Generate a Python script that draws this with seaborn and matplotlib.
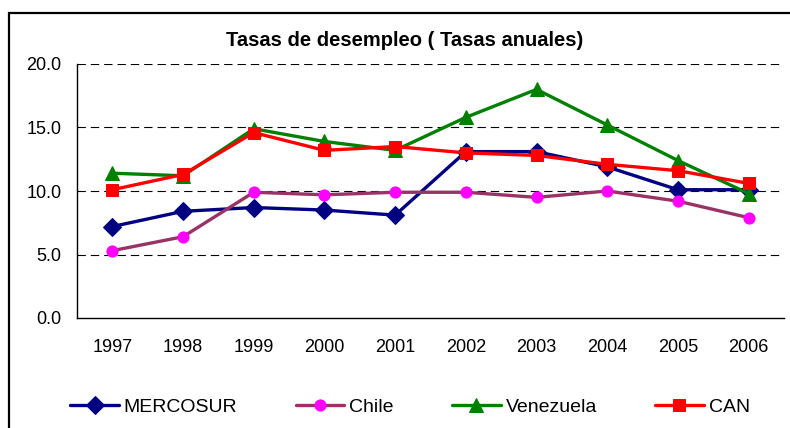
import matplotlib
matplotlib.use("Agg")
import matplotlib.pyplot as plt
import seaborn as sns
import pandas as pd
import numpy as np
from matplotlib.patches import Rectangle

years = [1997, 1998, 1999, 2000, 2001, 2002, 2003, 2004, 2005, 2006]
mercosur = [7.2, 8.4, 8.7, 8.5, 8.1, 13.1, 13.1, 11.9, 10.1, 10.1]
chile = [5.3, 6.4, 9.9, 9.7, 9.9, 9.9, 9.5, 10.0, 9.2, 7.9]
venezuela = [11.4, 11.2, 14.9, 13.9, 13.2, 15.8, 18.0, 15.2, 12.4, 9.8]
can = [10.1, 11.3, 14.6, 13.2, 13.5, 13.0, 12.8, 12.1, 11.6, 10.6]
yticks = [0.0, 5.0, 10.0, 15.0, 20.0]
title = "Tasas de desempleo ( Tasas anuales)"

sns.set_style("white")
plt.rcParams['font.family'] = ['Liberation Sans', 'DejaVu Sans']
plt.rcParams['text.color'] = 'black'
plt.rcParams['xtick.color'] = 'black'
plt.rcParams['ytick.color'] = 'black'
plt.rcParams['xtick.labelcolor'] = 'black'
plt.rcParams['ytick.labelcolor'] = 'black'

fig = plt.figure(figsize=(7.9, 4.28), dpi=100)
ax = fig.add_axes([77/790, 1-318/428, (784-77)/790, (318-64)/428])

series = [
    ("MERCOSUR", mercosur, "#000080", "#000080", "D", 9.5),
    ("Chile", chile, "#993366", "#FF00FF", "o", 8),
    ("Venezuela", venezuela, "#008000", "#008000", "^", 10),
    ("CAN", can, "#FF0000", "#FF0000", "s", 9),
]
for name, vals, lc, mc, mk, ms in series:
    df = pd.DataFrame({"year": years, "value": vals})
    sns.lineplot(data=df, x="year", y="value", ax=ax, color=lc, lw=2.4,
                 marker=mk, markersize=ms, markerfacecolor=mc,
                 markeredgecolor=mc, label=name, sort=False)

ax.set_xlim(years[0]-0.5, years[-1]+0.5)
ax.set_ylim(0, 20)
ax.set_yticks(yticks)
ax.set_yticklabels([f"{v:.1f}" for v in yticks], fontsize=13)
ax.set_xticks(np.arange(years[0]-0.5, years[-1]+1, 1))
ax.set_xticklabels([])
ax.set_xticks(years, minor=True)
ax.set_xticklabels([str(y) for y in years], minor=True, fontsize=13)
ax.tick_params(axis='x', which='major', length=5, width=1, direction='out', color='black')
ax.tick_params(axis='x', which='minor', length=0, pad=15)
ax.tick_params(axis='y', length=5, width=1, direction='out', color='black', pad=6)
ax.set_xlabel("")
ax.set_ylabel("")
for s in ["top", "right"]:
    ax.spines[s].set_visible(False)
for s in ["left", "bottom"]:
    ax.spines[s].set_color("black")
    ax.spines[s].set_linewidth(1)
for v in yticks[1:]:
    ax.axhline(v, color="black", lw=0.8, linestyle=(0, (7.5, 4.5)), zorder=0)

ax.legend_.remove()
handles, labels = ax.get_legend_handles_labels()
fig.legend(handles, labels, loc="center", bbox_to_anchor=(410/790, 1-407/428),
           ncol=4, frameon=False, fontsize=14, handlelength=2.5,
           handletextpad=0.25, columnspacing=3.0, labelcolor="black")

fig.text(405/790, 1-41/428, title, ha="center", va="center",
         fontsize=14.5, fontweight="bold", color="black")

fig.patches.append(Rectangle((9/790, -0.2), 1.2, 0.2 + (1-13/428),
                             transform=fig.transFigure, fill=False,
                             edgecolor="black", lw=1.6))

fig.savefig("out.png", dpi=100)
